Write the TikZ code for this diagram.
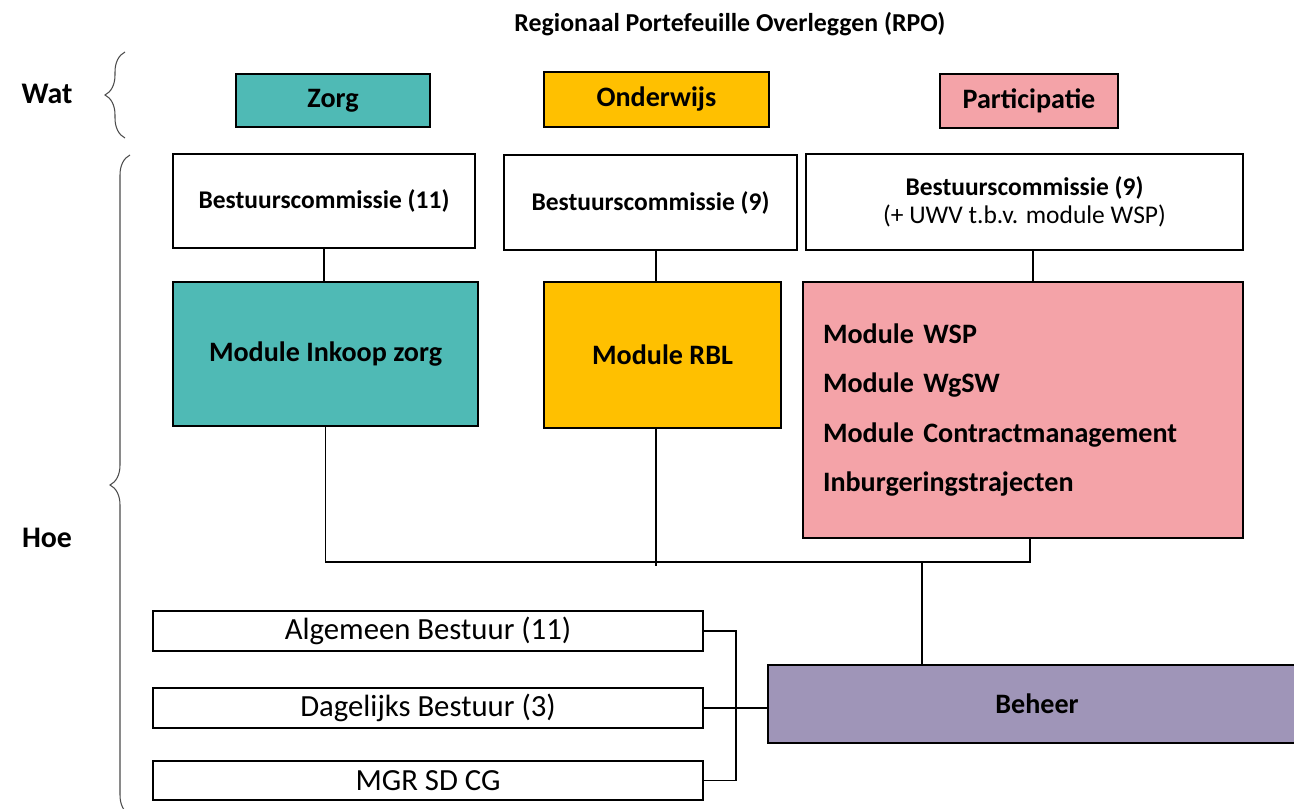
\documentclass[tikz,border=0pt]{standalone}
\usepackage{fontspec}
\setmainfont{Carlito}
\usetikzlibrary{decorations.pathreplacing}
\definecolor{zorgkleur}{HTML}{4FBAB5}
\definecolor{onderwijskleur}{HTML}{FFC000}
\definecolor{participatiekleur}{HTML}{F4A3A8}
\definecolor{beheerkleur}{HTML}{9F95B8}
\tikzset{
	blok/.style={draw, line width=1.2pt, inner sep=0pt, align=center, font=\bfseries\fontsize{14.5}{17}\selectfont},
	groot/.style={blok, font=\bfseries\fontsize{16}{19}\selectfont},
	bestuur/.style={draw, line width=1.2pt, inner sep=0pt, minimum width=11cm, minimum height=0.8cm, font=\fontsize{17.5}{20}\selectfont},
	lijn/.style={line width=0.8pt},
	dun/.style={line width=0.6pt},
	accolade/.style={draw=black!70, line width=0.6pt, decorate, decoration={brace, amplitude=0.4cm}},
}

\begin{document}
\begin{tikzpicture}[x=0.02cm, y=-0.02cm]
	\useasboundingbox (0,0) rectangle (1294,808);

	\node (titel) at (730,24) [font=\bfseries\fontsize{14.7}{17}\selectfont] {Regionaal Portefeuille Overleggen (RPO)};
	\node (wat) at (47,94) [font=\bfseries\fontsize{17}{20}\selectfont] {Wat};
	\node (hoe) at (47,538) [font=\bfseries\fontsize{17}{20}\selectfont] {Hoe};
	\draw [accolade] (125,138) -- (125,52);
	\draw [accolade] (130,815) -- (130,155);

	% wat
	\node [groot, fill=zorgkleur, minimum width=3.88cm, minimum height=1.06cm] (zorg) at (333,100.5) {Zorg};
	\node [groot, fill=onderwijskleur, minimum width=4.5cm, minimum height=1.1cm] (onderwijs) at (656.5,99.5) {Onderwijs};
	\node [groot, fill=participatiekleur, minimum width=3.56cm, minimum height=1.08cm] (participatie) at (1029,101) {Participatie};

	% hoe
	\node [blok, minimum width=6.04cm, minimum height=1.88cm] (bcZorg) at (324,201) {Bestuurscommissie (11)};
	\node [blok, minimum width=5.86cm, minimum height=1.9cm] (bcOnderwijs) at (650.5,202.5) {Bestuurscommissie (9)};
	\node [blok, minimum width=8.74cm, minimum height=1.92cm] (bcParticipatie) at (1024.5,202) {Bestuurscommissie (9)\\[-1pt]{\mdseries\fontsize{14.5}{17}\selectfont (+ UWV t.b.v. module WSP)}};

	\node [groot, fill=zorgkleur, minimum width=6.1cm, minimum height=2.88cm] (inkoop) at (325.5,354) {Module Inkoop zorg};
	\node [groot, fill=onderwijskleur, minimum width=4.74cm, minimum height=2.92cm] (rbl) at (662.5,355) {Module RBL};
	\node [groot, fill=participatiekleur, align=left, text width=8cm, inner xsep=0.4cm, minimum height=5.12cm, font=\bfseries\fontsize{16}{28}\selectfont] (modules) at (1023,410) {Module WSP\\Module WgSW\\Module Contractmanagement\\Inburgeringstrajecten};

	\node [bestuur] (ab) at (428,631) {Algemeen Bestuur (11)};
	\node [bestuur] (db) at (428,708) {Dagelijks Bestuur (3)};
	\node [bestuur, minimum height=0.78cm] (mgr) at (428,780.5) {MGR SD CG};
	\node [groot, fill=beheerkleur, minimum width=10.76cm, minimum height=1.56cm] (beheer) at (1037,704) {Beheer};

	\coordinate (knoop) at (922,562);

	\draw [lijn] (bcZorg.south) -- (bcZorg.south |- inkoop.north);
	\draw [lijn] ([xshift=0.11cm]bcOnderwijs.south) -- ([xshift=0.11cm]bcOnderwijs.south |- rbl.north);
	\draw [lijn] ([xshift=0.17cm]bcParticipatie.south) -- ([xshift=0.17cm]bcParticipatie.south |- modules.north);

	\draw [lijn] (inkoop.south) |- (knoop) -| ([xshift=0.14cm]modules.south);
	\draw [lijn] ([xshift=-0.13cm]rbl.south) -- ++(0,137);
	\draw [lijn] (knoop) -- (knoop |- beheer.north);

	\draw [dun] (ab.east) -- ++(32,0) |- (mgr.east);
	\draw [dun] (db.east) -- (db.east -| beheer.west);
\end{tikzpicture}
\end{document}
